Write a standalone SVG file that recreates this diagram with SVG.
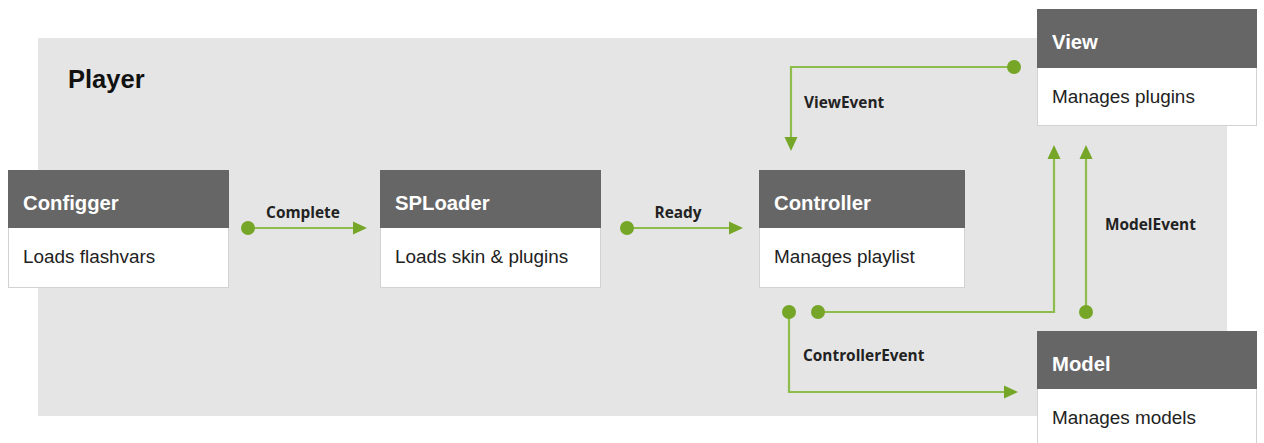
<svg xmlns="http://www.w3.org/2000/svg" width="1264" height="443" viewBox="0 0 1264 443">
<style>
.hd{fill:#666666}
.bd{fill:#ffffff;stroke:#d2d2d2;stroke-width:1}
.ht{font-family:"Liberation Sans",Arial,sans-serif;font-weight:bold;font-size:20.3px;fill:#ffffff}
.bt{font-family:"Liberation Sans",Arial,sans-serif;font-size:18.9px;fill:#222222}
.lbl{font-family:"Open Sans","DejaVu Sans",sans-serif;font-weight:bold;font-size:15.4px;fill:#222222}
.ln{fill:none;stroke:#8fbd4d;stroke-width:2.2}
.dot{fill:#76a628}
.ah{fill:#76a628}
</style>
<rect x="0" y="0" width="1264" height="443" fill="#ffffff"/>
<rect x="38" y="38" width="1189" height="378" fill="#e5e5e5"/>
<text x="68" y="88" font-family="'Liberation Sans',Arial,sans-serif" font-weight="bold" font-size="25.5" fill="#111111">Player</text>

<g id="configger">
<rect class="bd" x="8.5" y="170.5" width="220" height="117"/>
<rect class="hd" x="8" y="170" width="221" height="58"/>
<text class="ht" x="23" y="210">Configger</text>
<text class="bt" x="23" y="263">Loads flashvars</text>
</g>
<g id="sploader">
<rect class="bd" x="380.5" y="170.5" width="220" height="117"/>
<rect class="hd" x="380" y="170" width="221" height="58"/>
<text class="ht" x="395" y="210">SPLoader</text>
<text class="bt" x="395" y="263">Loads skin &amp; plugins</text>
</g>
<g id="controller">
<rect class="bd" x="759.5" y="170.5" width="205" height="117"/>
<rect class="hd" x="759" y="170" width="206" height="58"/>
<text class="ht" x="774" y="210">Controller</text>
<text class="bt" x="774" y="263">Manages playlist</text>
</g>
<g id="view">
<rect class="bd" x="1037.5" y="9.5" width="219" height="116"/>
<rect class="hd" x="1037" y="9" width="220" height="59"/>
<text class="ht" x="1052" y="49">View</text>
<text class="bt" x="1052" y="103">Manages plugins</text>
</g>
<g id="model">
<rect class="bd" x="1037.5" y="331.5" width="219" height="120"/>
<rect class="hd" x="1037" y="331" width="220" height="58"/>
<text class="ht" x="1052" y="371">Model</text>
<text class="bt" x="1052" y="424">Manages models</text>
</g>

<g id="connectors">
<line class="ln" x1="248" y1="228" x2="356" y2="228"/>
<circle class="dot" cx="248" cy="228" r="7"/>
<polygon class="ah" points="353,221.5 367,228 353,234.5"/>
<text class="lbl" x="303" y="218" text-anchor="middle">Complete</text>

<line class="ln" x1="627" y1="228" x2="732" y2="228"/>
<circle class="dot" cx="627" cy="228" r="7"/>
<polygon class="ah" points="729,221.5 743,228 729,234.5"/>
<text class="lbl" x="678" y="218" text-anchor="middle">Ready</text>

<polyline class="ln" points="1014,67 791,67 791,140"/>
<circle class="dot" cx="1014" cy="67" r="7"/>
<polygon class="ah" points="784.5,137 797.5,137 791,151"/>
<text class="lbl" x="804" y="108">ViewEvent</text>

<polyline class="ln" points="818,312 1054,312 1054,156"/>
<circle class="dot" cx="818" cy="312" r="7"/>
<polygon class="ah" points="1047.5,159 1060.5,159 1054,145"/>

<line class="ln" x1="1086" y1="312" x2="1086" y2="156"/>
<circle class="dot" cx="1086" cy="312" r="7"/>
<polygon class="ah" points="1079.5,159 1092.5,159 1086,145"/>
<text class="lbl" x="1105" y="230">ModelEvent</text>

<polyline class="ln" points="789,312 789,392 1007,392"/>
<circle class="dot" cx="789" cy="312" r="7"/>
<polygon class="ah" points="1004,385.5 1018,392 1004,398.5"/>
<text class="lbl" x="803" y="361">ControllerEvent</text>
</g>
</svg>
